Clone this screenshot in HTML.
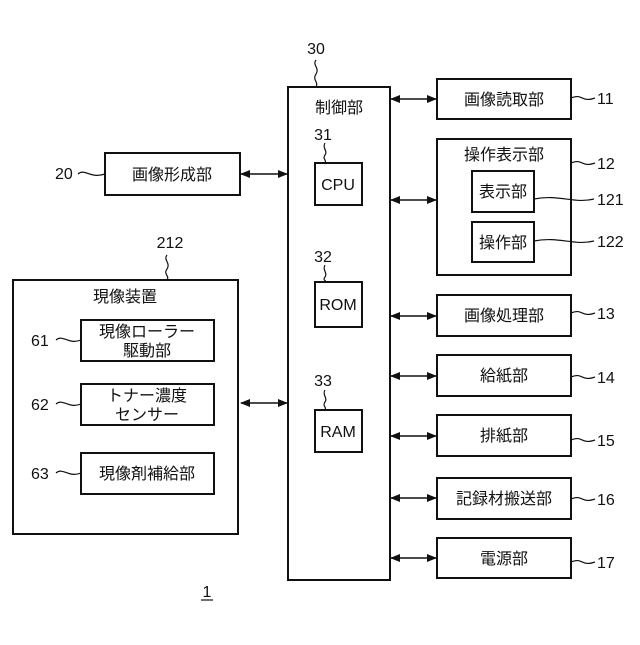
<!DOCTYPE html><html><head><meta charset="utf-8"><style>
body{margin:0;background:#fff}
svg text{font-family:"Liberation Sans","Noto Sans CJK JP",sans-serif;font-size:16px;fill:#111}
</style></head><body>
<svg width="640" height="640" viewBox="0 0 640 640" xmlns="http://www.w3.org/2000/svg">
<defs><marker id="a" markerWidth="10" markerHeight="8" refX="9" refY="4" orient="auto-start-reverse" markerUnits="userSpaceOnUse"><path d="M0,0 L10,4 L0,8 Z" fill="#111"/></marker></defs>
<g fill="none" stroke="#111" stroke-width="2">
<rect x="288" y="87" width="102" height="493"/>
<rect x="315" y="163" width="47" height="42"/>
<rect x="315" y="282" width="47" height="45"/>
<rect x="315" y="410" width="47" height="42"/>
<rect x="437" y="79" width="134" height="40"/>
<rect x="437" y="139" width="134" height="136"/>
<rect x="472" y="171" width="62" height="41"/>
<rect x="472" y="222" width="62" height="40"/>
<rect x="437" y="295" width="134" height="41"/>
<rect x="437" y="355" width="134" height="41"/>
<rect x="437" y="415" width="134" height="41"/>
<rect x="437" y="478" width="134" height="41"/>
<rect x="437" y="538" width="134" height="40"/>
<rect x="105" y="153" width="135" height="42"/>
<rect x="13" y="280" width="225" height="254"/>
<rect x="81" y="320" width="133" height="41"/>
<rect x="81" y="384" width="133" height="41"/>
<rect x="81" y="453" width="133" height="41"/>
</g>
<g stroke="#111" stroke-width="1.5" marker-start="url(#a)" marker-end="url(#a)">
<line x1="391" y1="99" x2="436" y2="99"/>
<line x1="391" y1="200" x2="436" y2="200"/>
<line x1="391" y1="316" x2="436" y2="316"/>
<line x1="391" y1="376" x2="436" y2="376"/>
<line x1="391" y1="436" x2="436" y2="436"/>
<line x1="391" y1="498" x2="436" y2="498"/>
<line x1="391" y1="558" x2="436" y2="558"/>
<line x1="241" y1="174" x2="287" y2="174"/>
<line x1="241" y1="403" x2="287" y2="403"/>
</g>
<g fill="none" stroke="#111" stroke-width="1.2">
<path d="M316,60 c-4,5 4,8 0,14 c-4,6 3,8 0,13"/>
<path d="M325,143 c-3,5 3,8 0,12 c-3,4 2,5 0,8"/>
<path d="M325,265 c-3,5 3,8 0,12 c-3,4 2,3 0,5"/>
<path d="M325,390 c-3,5 3,8 0,12 c-3,4 2,5 0,8"/>
<path d="M167,255 c-4,5 4,8 0,14 c-4,5 3,7 0,11"/>
<path d="M78,174 c7,-6 12,5 27,0"/>
<path d="M56,340 c7,-6 12,5 25,0"/>
<path d="M56,404 c7,-6 12,5 25,0"/>
<path d="M56,473 c7,-6 12,5 25,0"/>
<path d="M571,98 c12,-5 10,5 24,0"/>
<path d="M571,163 c12,-5 10,5 24,0"/>
<path d="M534,199 c25,-5 40,5 60,0"/>
<path d="M534,241 c25,-5 40,5 60,0"/>
<path d="M571,313 c12,-5 10,5 24,0"/>
<path d="M571,377 c12,-5 10,5 24,0"/>
<path d="M571,440 c12,-5 10,5 24,0"/>
<path d="M571,499 c12,-5 10,5 24,0"/>
<path d="M571,562 c12,-5 10,5 24,0"/>
</g>
<g text-anchor="middle">
<text x="316" y="54">30</text><text x="323" y="140">31</text><text x="323" y="262">32</text><text x="323" y="386">33</text>
<text x="170" y="248">212</text>
<text x="339" y="113">制御部</text>
<text x="338" y="190">CPU</text><text x="338" y="310">ROM</text><text x="338" y="437">RAM</text>
<text x="504" y="105">画像読取部</text>
<text x="504" y="160">操作表示部</text>
<text x="503" y="197">表示部</text><text x="503" y="248">操作部</text>
<text x="504" y="321">画像処理部</text>
<text x="504" y="381">給紙部</text>
<text x="504" y="441">排紙部</text>
<text x="504" y="504">記録材搬送部</text>
<text x="504" y="564">電源部</text>
<text x="172" y="180">画像形成部</text>
<text x="125" y="302">現像装置</text>
<text x="147" y="337">現像ローラー</text><text x="147" y="356">駆動部</text>
<text x="147" y="401">トナー濃度</text><text x="147" y="420">センサー</text>
<text x="147" y="479">現像剤補給部</text>
<text x="207" y="597">1</text>
</g>
<line x1="201" y1="600" x2="213" y2="600" stroke="#111" stroke-width="1.2"/>
<g>
<text x="55" y="179">20</text>
<text x="31" y="346">61</text><text x="31" y="410">62</text><text x="31" y="479">63</text>
<text x="597" y="104">11</text><text x="597" y="169">12</text>
<text x="597" y="205">121</text><text x="597" y="247">122</text>
<text x="597" y="319">13</text><text x="597" y="383">14</text><text x="597" y="446">15</text>
<text x="597" y="505">16</text><text x="597" y="568">17</text>
</g>
</svg></body></html>
